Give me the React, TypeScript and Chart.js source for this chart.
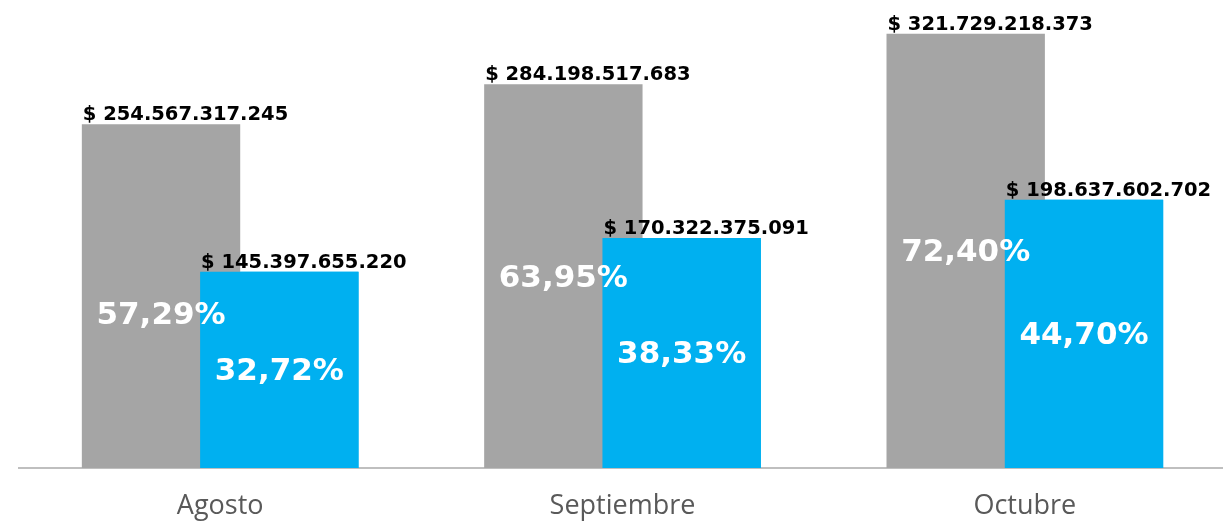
import React, { useEffect, useRef } from "react";
import { Chart, registerables } from "chart.js";

Chart.register(...registerables);

const categories = ["Agosto", "Septiembre", "Octubre"];
const totalValues = [254567317245, 284198517683, 321729218373];
const partValues = [145397655220, 170322375091, 198637602702];
const totalPercents = [57.29, 63.95, 72.4];
const partPercents = [32.72, 38.33, 44.7];

const GREY = "#a5a5a5";
const BLUE = "#00b0f0";

const fmtMoney = (v: number) =>
  "$ " + Math.round(v).toString().replace(/\B(?=(\d{3})+(?!\d))/g, ".");
const fmtPct = (v: number) => v.toFixed(2).replace(".", ",") + "%";

const labelPlugin = {
  id: "barLabels",
  afterDatasetsDraw(chart: any) {
    const ctx = chart.ctx;
    // draw the second series on top of the first (overlapping bars)
    chart.getDatasetMeta(1).controller.draw();
    const pctSets = [totalPercents, partPercents];
    const nudges = [[20, 3, 2], [2, 2, 2]];
    ctx.save();
    chart.data.datasets.forEach((ds: any, di: number) => {
      const meta = chart.getDatasetMeta(di);
      meta.data.forEach((bar: any, i: number) => {
        const left = bar.x - bar.width / 2;
        ctx.font = "bold 19.5px 'DejaVu Sans'";
        ctx.fillStyle = "#000000";
        ctx.textAlign = "left";
        ctx.textBaseline = "alphabetic";
        ctx.fillText(fmtMoney(ds.data[i]), left + 1, bar.y - 4);
      });
    });
    chart.data.datasets.forEach((ds: any, di: number) => {
      const meta = chart.getDatasetMeta(di);
      meta.data.forEach((bar: any, i: number) => {
        ctx.font = "bold 31px 'DejaVu Sans'";
        ctx.fillStyle = "#ffffff";
        ctx.textAlign = "center";
        ctx.textBaseline = "middle";
        const mid = (bar.y + bar.base) / 2 + nudges[di][i];
        ctx.fillText(fmtPct(pctSets[di][i]), bar.x, mid);
      });
    });
    ctx.restore();
  },
};

export default function App() {
  const ref = useRef<HTMLCanvasElement>(null);
  useEffect(() => {
    document.body.style.margin = "0";
    const chart = new Chart(ref.current!, {
      type: "bar",
      data: {
        labels: categories,
        datasets: [
          {
            data: totalValues,
            backgroundColor: GREY,
            categoryPercentage: 0.588,
            barPercentage: 1.339,
          },
          {
            data: partValues,
            backgroundColor: BLUE,
            categoryPercentage: 0.588,
            barPercentage: 1.339,
          },
        ],
      },
      options: {
        animation: false,
        responsive: false,
        layout: { padding: { left: 19, right: 0, top: 0, bottom: 0 } },
        plugins: { legend: { display: false }, tooltip: { enabled: false } },
        scales: {
          x: {
            grid: { display: false, drawTicks: false },
            border: { display: true, color: "#bfbfbf", width: 2 },
            ticks: {
              color: "#595959",
              font: { family: "'Open Sans'", size: 27 },
              padding: 22,
            },
            afterFit: (scale: any) => {
              scale.height = 57;
            },
          },
          y: { display: false, min: 0, max: 346.7e9 },
        },
      },
      plugins: [labelPlugin],
    });
    return () => chart.destroy();
  }, []);
  return (
    <div style={{ width: 1223, height: 525, overflow: "hidden" }}>
      <canvas ref={ref} width={1226} height={525} style={{ display: "block" }} />
    </div>
  );
}
